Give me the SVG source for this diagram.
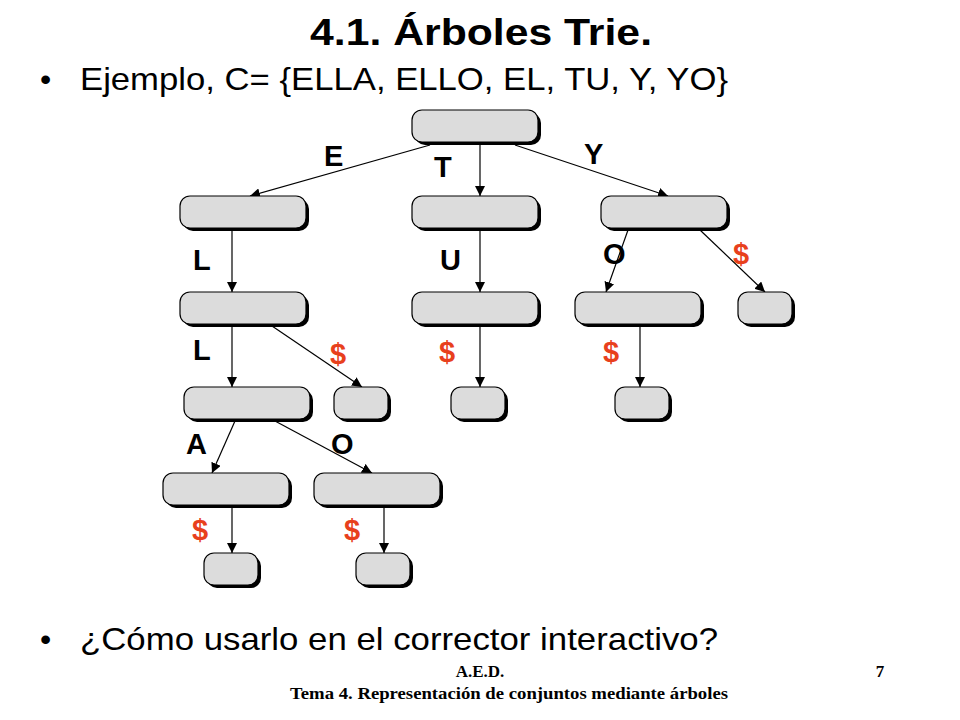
<svg xmlns="http://www.w3.org/2000/svg" width="960" height="720" viewBox="0 0 960 720">
<defs>
<style>
.n rect.s{fill:#000}
.n rect.b{fill:#dcdcdc;stroke:#000;stroke-width:1.2}
.lab{font-family:"Liberation Sans",Arial,sans-serif;font-weight:bold;font-size:29px;fill:#000}
.red{fill:#e8401c}
.e line{stroke:#000;stroke-width:1.2;marker-end:url(#a)}
.t{font-family:"Liberation Sans",Arial,sans-serif;font-size:32px;fill:#000}
.f{font-family:"Liberation Serif","Times New Roman",serif;font-weight:bold;font-size:17px}
</style>
<marker id="a" viewBox="0 0 10 10" refX="10" refY="5" markerWidth="10" markerHeight="10" markerUnits="userSpaceOnUse" orient="auto"><path d="M0,0L10,5L0,10z"/></marker>
</defs>
<rect width="960" height="720" fill="#fff"/>
<text x="310" y="45" textLength="342" lengthAdjust="spacingAndGlyphs" font-family="Liberation Sans,Arial,sans-serif" font-weight="bold" font-size="36">4.1. Árboles Trie.</text>
<text x="40" y="90" class="t">•</text><text x="80" y="90" class="t" textLength="648" lengthAdjust="spacingAndGlyphs">Ejemplo, C= {ELLA, ELLO, EL, TU, Y, YO}</text>
<text x="40" y="650" class="t">•</text><text x="80" y="650" class="t" textLength="638" lengthAdjust="spacingAndGlyphs">¿Cómo usarlo en el corrector interactivo?</text>
<text x="480" y="677" text-anchor="middle" class="f">A.E.D.</text>
<text x="880" y="677" text-anchor="middle" class="f">7</text>
<text x="290" y="699" class="f" textLength="438" lengthAdjust="spacingAndGlyphs">Tema 4. Representación de conjuntos mediante árboles</text>
<g class="e">
<line x1="430" y1="145" x2="250" y2="196"/>
<line x1="480" y1="145" x2="480" y2="196"/>
<line x1="515" y1="145" x2="668" y2="196"/>
<line x1="232" y1="230" x2="232" y2="292"/>
<line x1="480" y1="230" x2="480" y2="292"/>
<line x1="628" y1="230" x2="606" y2="292"/>
<line x1="700" y1="230" x2="765" y2="292"/>
<line x1="232" y1="326" x2="232" y2="387"/>
<line x1="272" y1="326" x2="362" y2="387"/>
<line x1="480" y1="326" x2="480" y2="387"/>
<line x1="640" y1="326" x2="640" y2="387"/>
<line x1="235" y1="421" x2="212" y2="473"/>
<line x1="275" y1="421" x2="372" y2="473"/>
<line x1="232" y1="507" x2="232" y2="553"/>
<line x1="384" y1="507" x2="384" y2="553"/>
</g>
<g id="root" class="n"><rect class="s" x="415" y="113" width="126" height="32" rx="10"/><rect class="b" x="412" y="110" width="126" height="32" rx="10"/></g>
<g id="nE" class="n"><rect class="s" x="183" y="199" width="126" height="32" rx="10"/><rect class="b" x="180" y="196" width="126" height="32" rx="10"/></g>
<g id="nT" class="n"><rect class="s" x="415" y="199" width="126" height="32" rx="10"/><rect class="b" x="412" y="196" width="126" height="32" rx="10"/></g>
<g id="nY" class="n"><rect class="s" x="604" y="199" width="126" height="32" rx="10"/><rect class="b" x="601" y="196" width="126" height="32" rx="10"/></g>
<g id="nEL" class="n"><rect class="s" x="183" y="295" width="126" height="32" rx="10"/><rect class="b" x="180" y="292" width="126" height="32" rx="10"/></g>
<g id="nTU" class="n"><rect class="s" x="415" y="295" width="126" height="32" rx="10"/><rect class="b" x="412" y="292" width="126" height="32" rx="10"/></g>
<g id="nYO" class="n"><rect class="s" x="578" y="295" width="126" height="32" rx="10"/><rect class="b" x="575" y="292" width="126" height="32" rx="10"/></g>
<g id="nY$" class="n"><rect class="s" x="741" y="295" width="54" height="32" rx="10"/><rect class="b" x="738" y="292" width="54" height="32" rx="10"/></g>
<g id="nELL" class="n"><rect class="s" x="187" y="390" width="126" height="32" rx="10"/><rect class="b" x="184" y="387" width="126" height="32" rx="10"/></g>
<g id="nEL$" class="n"><rect class="s" x="337" y="390" width="54" height="32" rx="10"/><rect class="b" x="334" y="387" width="54" height="32" rx="10"/></g>
<g id="nTU$" class="n"><rect class="s" x="454" y="390" width="54" height="32" rx="10"/><rect class="b" x="451" y="387" width="54" height="32" rx="10"/></g>
<g id="nYO$" class="n"><rect class="s" x="618" y="390" width="54" height="32" rx="10"/><rect class="b" x="615" y="387" width="54" height="32" rx="10"/></g>
<g id="nELLA" class="n"><rect class="s" x="166" y="476" width="126" height="32" rx="10"/><rect class="b" x="163" y="473" width="126" height="32" rx="10"/></g>
<g id="nELLO" class="n"><rect class="s" x="317" y="476" width="126" height="32" rx="10"/><rect class="b" x="314" y="473" width="126" height="32" rx="10"/></g>
<g id="nELLA$" class="n"><rect class="s" x="207" y="556" width="54" height="32" rx="10"/><rect class="b" x="204" y="553" width="54" height="32" rx="10"/></g>
<g id="nELLO$" class="n"><rect class="s" x="359" y="556" width="54" height="32" rx="10"/><rect class="b" x="356" y="553" width="54" height="32" rx="10"/></g>
<g class="lab">
<text x="324" y="166">E</text><text x="434" y="177">T</text><text x="584" y="164">Y</text>
<text x="193" y="270">L</text><text x="440" y="270">U</text><text x="603" y="264">O</text><text x="733" y="264" class="red">$</text>
<text x="193" y="360">L</text><text x="330" y="364" class="red">$</text><text x="439" y="362" class="red">$</text><text x="603" y="362" class="red">$</text>
<text x="186" y="454">A</text><text x="331" y="454">O</text>
<text x="192" y="540" class="red">$</text><text x="344" y="540" class="red">$</text>
</g>
</svg>
